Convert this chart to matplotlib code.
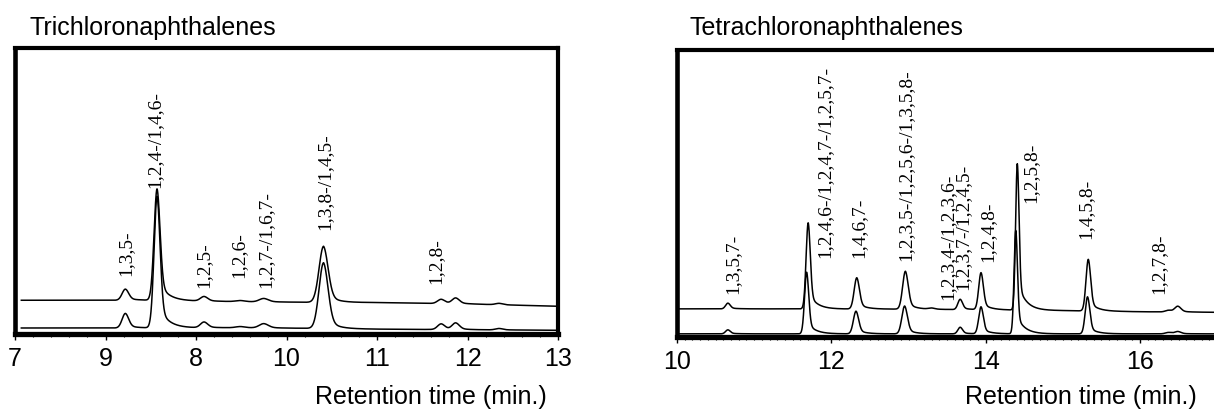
import numpy as np
import matplotlib
matplotlib.use("Agg")
import matplotlib.pyplot as plt
from matplotlib.ticker import MultipleLocator

# ---------------- data ----------------
# Trichloronaphthalenes panel
tri_rt = [8.22, 8.57, 9.09, 9.49, 9.75, 10.41, 11.71, 11.87, 12.35]
tri_upper_h = [0.039, 0.39, 0.016, 0.004, 0.012, 0.196, 0.015, 0.020, 0.005]
tri_lower_h = [0.051, 0.46, 0.020, 0.004, 0.015, 0.230, 0.020, 0.023, 0.005]
tri_sigma = [0.036, 0.033, 0.040, 0.050, 0.050, 0.050, 0.040, 0.040, 0.040]
tri_base_t = [7.07, 8.4, 9.5, 10.2, 11.0, 12.0, 13.0]
tri_upper_base = [0.118, 0.118, 0.113, 0.111, 0.110, 0.105, 0.097]
tri_lower_base = [0.021, 0.021, 0.022, 0.020, 0.017, 0.015, 0.013]
tri_ticks = [7, 8, 9, 10, 11, 12, 13]
tri_ticklabels = ["7", "9", "8", "10", "11", "12", "13"]
tri_labels = ["1,3,5-", "1,2,4-/1,4,6-", "1,2,5-", "1,2,6-", "1,2,7-/1,6,7-",
              "1,3,8-/1,4,5-", "1,2,8-"]
tri_label_t = [8.22, 8.55, 9.09, 9.47, 9.77, 10.42, 11.65]
tri_label_y = [0.206, 0.514, 0.166, 0.200, 0.166, 0.366, 0.177]

# Tetrachloronaphthalenes panel
tet_rt_upper = [10.66, 11.70, 12.33, 12.96, 13.30, 13.67, 13.94, 14.41, 15.33, 16.37, 16.49]
tet_rt_lower = [10.66, 11.68, 12.32, 12.95, 13.30, 13.67, 13.94, 14.39, 15.32, 16.37, 16.49]
tet_upper_h = [0.020, 0.300, 0.109, 0.132, 0.004, 0.036, 0.129, 0.510, 0.180, 0.006, 0.020]
tet_lower_h = [0.014, 0.215, 0.079, 0.097, 0.000, 0.023, 0.094, 0.360, 0.129, 0.005, 0.008]
tet_sigma = [0.030, 0.027, 0.034, 0.036, 0.040, 0.030, 0.030, 0.022, 0.030, 0.040, 0.040]
tet_base_t = [10.0, 11.5, 13.0, 14.3, 15.0, 16.0, 17.0]
tet_upper_base = [0.098, 0.098, 0.097, 0.094, 0.092, 0.088, 0.086]
tet_lower_base = [0.011, 0.011, 0.011, 0.011, 0.011, 0.011, 0.011]
tet_ticks = [10, 12, 14, 16]
tet_ticklabels = ["10", "12", "14", "16"]
tet_labels = ["1,3,5,7-", "1,2,4,6-/1,2,4,7-/1,2,5,7-", "1,4,6,7-",
              "1,2,3,5-/1,2,5,6-/1,3,5,8-", "1,2,3,4-/1,2,3,6-",
              "1,2,3,7-/1,2,4,5-", "1,2,4,8-", "1,2,5,8-", "1,4,5,8-", "1,2,7,8-"]
tet_label_t = [10.72, 11.92, 12.36, 12.96, 13.51, 13.71, 14.03, 14.59, 15.30, 16.24]
tet_label_y = [0.155, 0.280, 0.280, 0.270, 0.132, 0.167, 0.264, 0.471, 0.345, 0.155]

# ---------------- drawing ----------------
W, H = 1214, 410
fig = plt.figure(figsize=(W / 100, H / 100), dpi=100)

SANS = "Liberation Sans"
SERIF = "Liberation Serif"
TAIL_A, TAIL_TAU = 0.2, 0.10


def trace(t, rts, hs, sigmas, base_t, base_v):
    y = np.interp(t, base_t, base_v)
    for rt, h, s in zip(rts, hs, sigmas):
        d = t - rt
        g = np.exp(-0.5 * (d / s) ** 2)
        right = (1 - TAIL_A) * g + TAIL_A * np.exp(-np.clip(d, 0, None) / TAIL_TAU)
        y = y + h * np.where(d <= 0, g, right)
    return y


def setup(ax, xlim, ticks, ticklabels, minor):
    ax.set_xlim(*xlim)
    ax.set_ylim(0, 1)
    ax.set_yticks([])
    ax.set_xticks(ticks)
    ax.set_xticklabels(ticklabels, fontfamily=SANS, fontsize=18)
    ax.xaxis.set_minor_locator(MultipleLocator(minor))
    ax.tick_params(axis="x", which="major", direction="out", length=4, width=1, pad=5)
    ax.tick_params(axis="x", which="minor", direction="out", length=2.5, width=0.8)
    ax.spines["left"].set_linewidth(3.3)
    ax.spines["bottom"].set_linewidth(3.8)
    ax.spines["top"].set_linewidth(3.0)
    ax.spines["right"].set_linewidth(3.0)


# left panel
ax1 = fig.add_axes([15 / W, (H - 335) / H, 543 / W, 286 / H])
t1 = np.linspace(tri_base_t[0], tri_base_t[-1], 4000)
ax1.plot(t1, trace(t1, tri_rt, tri_upper_h, tri_sigma, tri_base_t, tri_upper_base),
         color="black", lw=1.1)
ax1.plot(t1, trace(t1, tri_rt, tri_lower_h, tri_sigma, tri_base_t, tri_lower_base),
         color="black", lw=1.1)
setup(ax1, (7, 13), tri_ticks, tri_ticklabels, 0.2)
for lab, tx, ty in zip(tri_labels, tri_label_t, tri_label_y):
    ax1.text(tx, ty, lab, rotation=90, ha="center", va="bottom",
             fontfamily=SERIF, fontsize=14)

# right panel
ax2 = fig.add_axes([677 / W, (H - 338) / H, (W - 677) / W + 0.002, 287 / H])
t2 = np.linspace(tet_base_t[0], tet_base_t[-1], 5000)
ax2.plot(t2, trace(t2, tet_rt_upper, tet_upper_h, tet_sigma, tet_base_t, tet_upper_base),
         color="black", lw=1.1)
ax2.plot(t2, trace(t2, tet_rt_lower, tet_lower_h, tet_sigma, tet_base_t, tet_lower_base),
         color="black", lw=1.1)
setup(ax2, (10, 16.99), tet_ticks, tet_ticklabels, 0.1)
ax2.spines["right"].set_visible(False)
for lab, tx, ty in zip(tet_labels, tet_label_t, tet_label_y):
    ax2.text(tx, ty, lab, rotation=90, ha="center", va="bottom",
             fontfamily=SERIF, fontsize=14)

# titles and axis labels
fig.text(29 / W, (H - 35) / H, "Trichloronaphthalenes", fontfamily=SANS,
         fontsize=18, ha="left", va="baseline")
fig.text(689 / W, (H - 35) / H, "Tetrachloronaphthalenes", fontfamily=SANS,
         fontsize=18, ha="left", va="baseline")
fig.text(547 / W, (H - 404) / H, "Retention time (min.)", fontfamily=SANS,
         fontsize=18, ha="right", va="baseline")
fig.text(1197 / W, (H - 404) / H, "Retention time (min.)", fontfamily=SANS,
         fontsize=18, ha="right", va="baseline")

fig.savefig("out.png", dpi=100)
